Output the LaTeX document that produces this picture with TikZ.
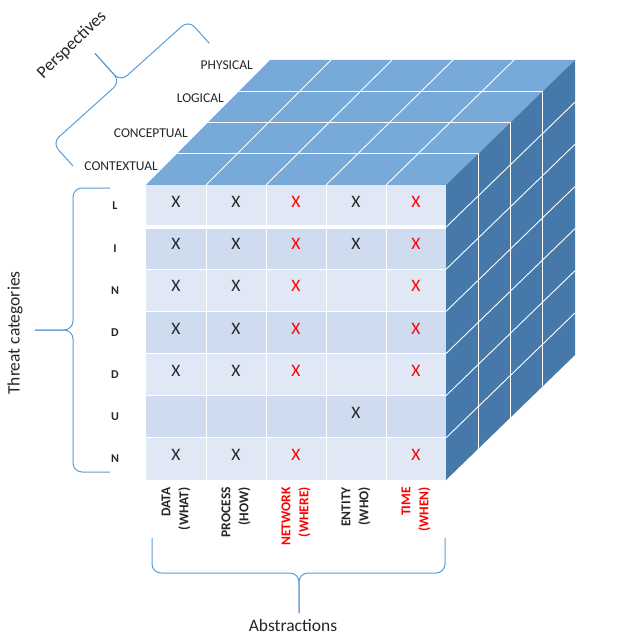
\documentclass[tikz,border=0pt]{standalone}
\usepackage{fontspec}
\setmainfont{Carlito}
\definecolor{topblue}{HTML}{77A9D9}
\definecolor{sideblue}{HTML}{4679A9}
\definecolor{rowlight}{HTML}{DFE8F4}
\definecolor{rowdark}{HTML}{CFDBEE}
\definecolor{bracecol}{HTML}{5B9BD5}
\definecolor{ink}{HTML}{262626}
\definecolor{alert}{HTML}{FF0000}

\begin{document}
\begin{tikzpicture}[x=1pt,y=-1pt,
  grid/.style={draw=white, line width=0.9pt},
  cbrace/.style={draw=bracecol, line width=1pt, rounded corners=9pt},
  xmark/.style={font=\fontsize{17.5}{17.5}\selectfont, inner sep=0pt},
  toplabel/.style={font=\fontsize{13.5}{13.5}\selectfont, text=ink, inner sep=0pt, anchor=east},
  rowlabel/.style={font=\bfseries\fontsize{12}{12}\selectfont, text=ink, inner sep=0pt},
  collabel/.style={font=\bfseries\fontsize{13.5}{18}\selectfont, inner sep=0pt,
                   rotate=90, anchor=east, align=right},
  title/.style={font=\fontsize{17.5}{17.5}\selectfont, text=ink, inner sep=0pt}]

\useasboundingbox (0,0) rectangle (629,634);

% cube faces
\fill[topblue] (146,185) -- (446,185) -- (575,60) -- (270,60) -- cycle;
\fill[sideblue] (446,185) -- (575,60) -- (575,355) -- (446,480) -- cycle;

% front face: seven threat rows with alternating shading
\foreach \i in {0,...,6}{
  \pgfmathsetmacro{\ya}{185+\i*295/7}
  \pgfmathsetmacro{\yb}{185+(\i+1)*295/7}
  \ifodd\i \def\rc{rowdark}\else\def\rc{rowlight}\fi
  \fill[\rc] (146,\ya) rectangle (446,\yb);
}
\foreach \j in {1,...,4}
  \draw[grid] ({146+60*\j},185) -- ({146+60*\j},480);
\foreach \i in {2,...,6}
  \draw[grid] (146,{185+\i*295/7}) -- (446,{185+\i*295/7});
\draw[white, line width=4pt] (146,{185+295/7}) -- (446,{185+295/7});

% top face: perspective layers continuing down the side face
\foreach \k in {1,2,3}{
  \pgfmathsetmacro{\b}{\k/4}
  \draw[grid] ({146+124*\b},{185-125*\b}) -- ({446+129*\b},{185-125*\b})
              -- ({446+129*\b},{480-125*\b});
}
% top face: column edges running back
\foreach \j in {1,...,4}{
  \pgfmathsetmacro{\a}{\j/5}
  \draw[grid] ({146+300*\a},185) -- ({270+305*\a},60);
}
% side face: row edges running back
\foreach \i in {1,...,6}
  \draw[grid] (446,{185+\i*295/7}) -- (575,{60+\i*295/7});

% perspective labels
\node[toplabel] (physical)   at (253,65)  {PHYSICAL};
\node[toplabel] (logical)    at (224,98)  {LOGICAL};
\node[toplabel] (conceptual) at (188,133) {CONCEPTUAL};
\node[toplabel] (contextual) at (158,166) {CONTEXTUAL};

% threat category letters
\foreach \t [count=\i] in {L,I,N,D,D,U,N}
  \node[rowlabel] (row\i) at (115,{185+(\i-0.5)*295/7}) {\t};

% abstraction columns
\node[collabel, text=ink]   (cdata)    at (176,487) {DATA\\(WHAT)};
\node[collabel, text=ink]   (cprocess) at (236,487) {PROCESS\\(HOW)};
\node[collabel, text=alert] (cnetwork) at (296,487) {NETWORK\\(WHERE)};
\node[collabel, text=ink]   (centity)  at (356,487) {ENTITY\\(WHO)};
\node[collabel, text=alert] (ctime)    at (416,487) {TIME\\(WHEN)};

% cell marks
\foreach \r/\c/\col in {1/1/ink,1/2/ink,1/3/alert,1/4/ink,1/5/alert,
                        2/1/ink,2/2/ink,2/3/alert,2/4/ink,2/5/alert,
                        3/1/ink,3/2/ink,3/3/alert,3/5/alert,
                        4/1/ink,4/2/ink,4/3/alert,4/5/alert,
                        5/1/ink,5/2/ink,5/3/alert,5/5/alert,
                        6/4/ink,
                        7/1/ink,7/2/ink,7/3/alert,7/5/alert}
  \node[xmark, text=\col] (x\r\c) at ({146+(\c-0.5)*60},{185+(\r-0.5)*295/7-4}) {X};

% braces
\begin{scope}[shift={(73,166)}, rotate=42]
  \draw[cbrace] (0,0) -- (0,-31) -- (91.7,-31) -- (91.7,-69);
  \draw[cbrace] (183.4,0) -- (183.4,-31) -- (91.7,-31) -- (91.7,-69);
\end{scope}
\draw[cbrace] (110,188) -- (73,188) -- (73,330) -- (35,330);
\draw[cbrace] (110,472) -- (73,472) -- (73,330) -- (35,330);
\draw[cbrace] (152,538) -- (152,573) -- (299,573) -- (299,613);
\draw[cbrace] (445,538) -- (445,573) -- (299,573) -- (299,613);

% axis titles
\node[title, rotate=44] (persp)  at (72,45)  {Perspectives};
\node[title, rotate=90] (threat) at (15,333) {Threat categories};
\node[title]            (abstr)  at (293,625) {Abstractions};
\end{tikzpicture}
\end{document}
